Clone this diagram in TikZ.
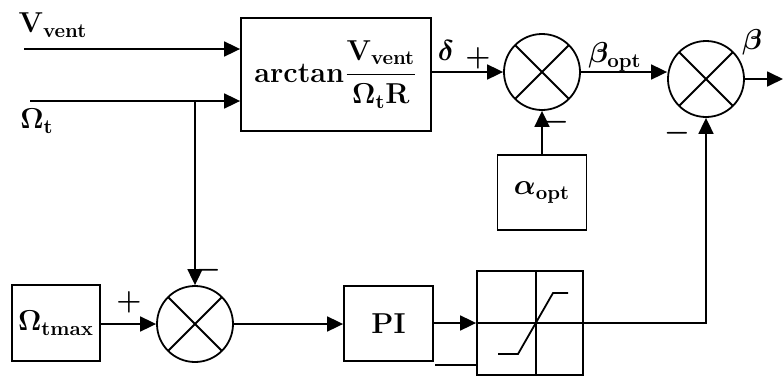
\documentclass[tikz,border=0pt]{standalone}
\usepackage{amsmath}
\usetikzlibrary{arrows.meta}
\tikzset{
  blk/.style={draw, line width=0.9pt, inner sep=0pt},
  mix/.style={circle, draw, line width=0.9pt, minimum size=38pt, inner sep=0pt,
    path picture={\draw[line width=0.9pt]
      (path picture bounding box.north west) -- (path picture bounding box.south east)
      (path picture bounding box.north east) -- (path picture bounding box.south west);}},
  wire/.style={line width=0.9pt},
  arr/.style={line width=0.9pt, -{Triangle[length=8pt,width=7.5pt]}},
  lbl/.style={font=\Large\bfseries\boldmath, inner sep=0pt},
}
\begin{document}
\begin{tikzpicture}[x=0.5pt,y=-0.5pt]
\useasboundingbox (0,0) rectangle (783,376);
% blocks
\node[blk, minimum width=95pt, minimum height=56.5pt, lbl] (arct) at (336,74.5)
  {arctan$\dfrac{\mathrm{V_{vent}}}{\Omega_{\mathrm{t}}\mathrm{R}}$};
\node[blk, minimum width=44.5pt, minimum height=37.5pt, lbl] (alpha) at (542,192.5) {$\alpha_{\mathrm{opt}}$};
\node[blk, minimum width=44pt, minimum height=38pt, lbl] (omax) at (56,323) {$\Omega_{\mathrm{tmax}}$};
\node[blk, minimum width=44.5pt, minimum height=37.5pt, lbl] (pi) at (388.5,323.5) {PI};
\node[blk, minimum width=53pt, minimum height=52pt] (sat) at (530,323) {};
% summing points
\node[mix] (sum1) at (542,72) {};
\node[mix] (sum2) at (706,79) {};
\node[mix] (sum3) at (195,324) {};
% free ends
\coordinate (vin) at (24,49);
\coordinate (omin) at (30,101);
\coordinate (br) at (195,101);
\coordinate (out) at (783,79);
\coordinate (lo) at (435,365);
% saturation curve
\draw[line width=0.6pt] ([xshift=3pt]sat.north) -- ([xshift=3pt]sat.south);
\draw[line width=0.6pt] (sat.west) -- (sat.east);
\begin{scope}[shift={(536,323)}]
\draw[line width=0.9pt] (-38,31) -- (-18,31) -- (17,-30) -- (32,-30);
\end{scope}
% connectors
\draw[arr] (vin) -- (vin -| arct.west);
\draw[arr] (omin) -- (omin -| arct.west);
\draw[arr] (br) -- (sum3.north);
\draw[arr] (arct.east |- sum1.west) -- (sum1.west);
\draw[arr] (sum1.east) -- (sum1.east -| sum2.west);
\draw[arr] (alpha.north) -- (sum1.south);
\draw[arr] (sum2.east) -- (out);
\draw[arr] (omax.east |- sum3.west) -- (sum3.west);
\draw[arr] (sum3.east) -- (sum3.east -| pi.west);
\draw[arr] (pi.east |- sat.west) -- (sat.west);
\draw[wire] (lo) -- (lo -| sat.west);
\draw[arr] (sat.east) -| (sum2.south);
% labels
\node[lbl] (lvv) at (53,25) {$\mathrm{V_{vent}}$};
\node[lbl] (lom) at (37,121) {$\Omega_{\mathrm{t}}$};
\node[lbl] (ldel) at (446,50) {$\delta$};
\node[lbl] (lbo) at (615,57) {$\beta_{\mathrm{opt}}$};
\node[lbl] (lbe) at (752,42) {$\beta$};
\node[lbl] (p1) at (478,58) {$+$};
\node[lbl] (m1) at (556,122) {$-$};
\node[lbl] (m2) at (677,133) {$-$};
\node[lbl] (m3) at (208,270) {$-$};
\node[lbl] (p3) at (129,302) {$+$};
\end{tikzpicture}
\end{document}
